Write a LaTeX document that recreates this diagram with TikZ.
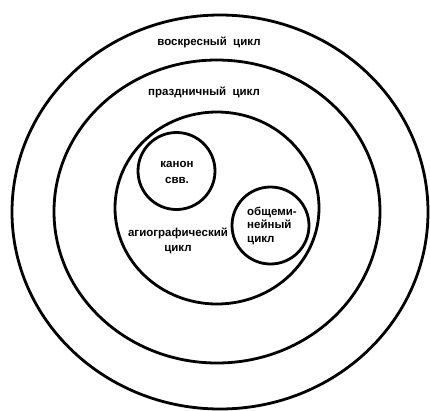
\documentclass[tikz,border=0pt]{standalone}
\usepackage{fontspec}
\setmainfont{Liberation Sans}
\begin{document}
\begin{tikzpicture}[x=1pt,y=-1pt,
  ring/.style={draw=black,line width=2.8pt},
  lbl/.style={font=\fontsize{11.5}{13.5}\selectfont\bfseries,inner sep=0pt,align=center}]
\useasboundingbox[fill=white] (0,0) rectangle (430,410);
\draw[ring] (220,212) ellipse [x radius=208,y radius=197];
\draw[ring] (217,211.5) ellipse [x radius=163,y radius=151.5];
\draw[ring] (217,208) ellipse [x radius=102,y radius=96];
\draw[ring] (176.5,171) circle [radius=38.5];
\draw[ring] (270.5,225.5) circle [radius=38.5];
\node[lbl] (sun) at (209,42) {воскресный\ \ цикл};
\node[lbl] (fest) at (204,92) {праздничный\ \ цикл};
\node[lbl,font=\fontsize{11.5}{16}\selectfont\bfseries] (canon) at (177,172) {канон\\свв.};
\node[lbl,font=\fontsize{11.5}{15}\selectfont\bfseries] (hagio) at (178,240.5) {агиографический\\цикл};
\node[lbl,align=left,anchor=west] (comm) at (247,225.5) {общеми-\\нейный\\цикл};
\end{tikzpicture}
\end{document}
